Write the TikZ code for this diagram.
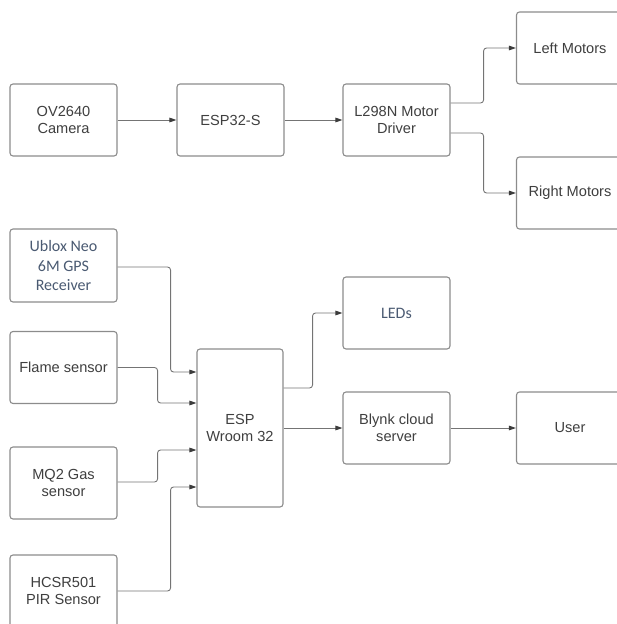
\documentclass[tikz,border=0pt]{standalone}
\usepackage{fontspec}
\setmainfont{Liberation Sans}
\newfontfamily\calibrifont{Carlito}
\usepackage{tikz}
\usetikzlibrary{arrows.meta, positioning}
\definecolor{BDedge}{HTML}{8C8C8C}
\definecolor{BDwire}{HTML}{747474}
\definecolor{BDtip}{HTML}{3C3C3C}
\definecolor{BDink}{HTML}{3F3F3F}
\definecolor{BDslate}{HTML}{4A5A72}
\tikzset{
  bdbox/.style={
    rectangle, rounded corners=3pt, draw=BDedge, line width=1.1pt,
    fill=white, text=BDink, align=center, inner sep=2pt,
    minimum width=107pt, minimum height=72pt,
    font=\fontsize{14.6}{17}\selectfont},
  bdcal/.style={bdbox, text=BDslate, font=\calibrifont\fontsize{16}{19.5}\selectfont},
  bdarr/.style={-{Triangle[length=7pt,width=4.6pt,color=BDtip]}, line width=0.9pt,
    draw=BDwire, rounded corners=3pt},
}
\begin{document}
\begin{tikzpicture}[x=1pt, y=-1pt]
  \useasboundingbox (0,0) rectangle (616,624);
  %% Top row: camera -> ESP32-S -> motor driver
  \node[bdbox] (cam) at (63.5,120) {OV2640\\Camera};
  \node[bdbox] (esps) at (230.5,120) {ESP32-S};
  \node[bdbox] (drv) at (396.5,120) {L298N Motor\\Driver};
  %% Motors (cut by the right edge)
  \node[bdbox] (lmot) at (570,48) {Left Motors};
  \node[bdbox] (rmot) at (570,193) {Right Motors};
  %% Sensors on the left
  \node[bdcal, minimum height=73pt] (gps) at (63.5,265.5) {Ublox Neo\\6M GPS\\Receiver};
  \node[bdbox] (flame) at (63.5,367.5) {Flame sensor};
  \node[bdbox] (gas) at (63.5,483) {MQ2 Gas\\sensor};
  \node[bdbox] (pir) at (63.5,591) {HCSR501\\PIR Sensor};
  %% Controller
  \node[bdbox, minimum width=86pt, minimum height=158pt] (wroom) at (240,428) {ESP\\Wroom 32};
  %% Outputs
  \node[bdcal] (leds) at (396.5,313) {LEDs};
  \node[bdbox] (blynk) at (396.5,428) {Blynk cloud\\server};
  \node[bdbox] (user) at (570,428) {User};
  %% Arrows
  \draw[bdarr] (cam) -- (esps);
  \draw[bdarr] (esps) -- (drv);
  \draw[bdarr] ([yshift=17pt]drv.east) -- ++(33,0) |- (lmot.west);
  \draw[bdarr] ([yshift=-13pt]drv.east) -- ++(33,0) |- (rmot.west);
  \draw[bdarr] ([yshift=-1.5pt]gps.east) -- ++(53,0) |- ([yshift=56pt]wroom.west);
  \draw[bdarr] (flame.east) -- ++(40,0) |- ([yshift=25pt]wroom.west);
  \draw[bdarr] ([yshift=1pt]gas.east) -- ++(40,0) |- ([yshift=-22pt]wroom.west);
  \draw[bdarr] (pir.east) -- ++(53,0) |- ([yshift=-59pt]wroom.west);
  \draw[bdarr] ([yshift=40pt]wroom.east) -- ++(29,0) |- (leds.west);
  \draw[bdarr] (wroom.east) -- (blynk.west);
  \draw[bdarr] (blynk) -- (user);
\end{tikzpicture}
\end{document}
